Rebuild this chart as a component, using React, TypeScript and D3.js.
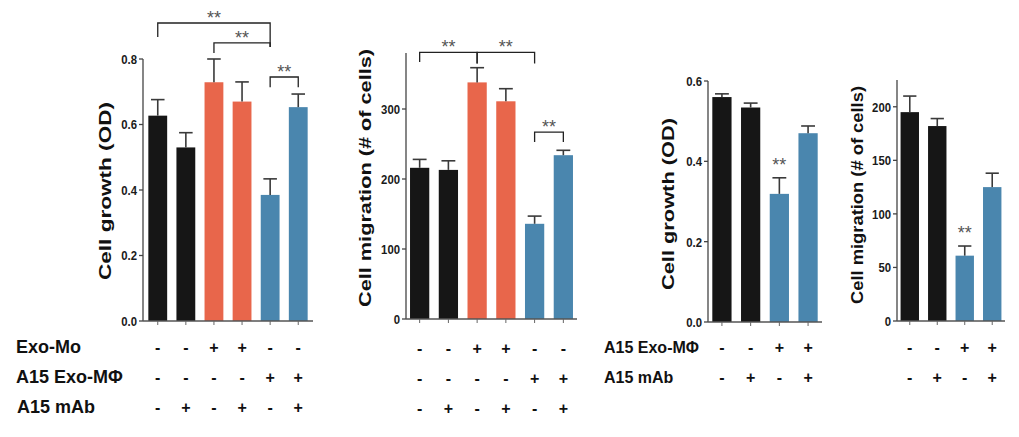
import React from "react";
import * as d3 from "d3";

const W = 1019;
const H = 437;

const BLACK = "#161616";
const ORANGE = "#e8664b";
const BLUE = "#4a86ae";

// left experiment (6 groups)
const colorsA = [BLACK, BLACK, ORANGE, ORANGE, BLUE, BLUE];
const growthA = [0.627, 0.53, 0.729, 0.67, 0.385, 0.653];
const growthAErr = [0.049, 0.045, 0.071, 0.06, 0.049, 0.04];
const migrationA = [216, 213, 338, 311, 136, 234];
const migrationAErr = [12, 13, 21, 18, 11, 7];

// right experiment (4 groups)
const colorsB = [BLACK, BLACK, BLUE, BLUE];
const growthB = [0.56, 0.534, 0.319, 0.47];
const growthBErr = [0.008, 0.011, 0.04, 0.018];
const migrationB = [195, 182, 61, 125];
const migrationBErr = [15, 7, 9, 13];

// treatment table
const exoMo = ["-", "-", "+", "+", "-", "-"];
const exoMphiA = ["-", "-", "-", "-", "+", "+"];
const mAbA = ["-", "+", "-", "+", "-", "+"];
const exoMphiB = ["-", "-", "+", "+"];
const mAbB = ["-", "+", "-", "+"];

// significance brackets: from bar, to bar, level, left leg end, right leg end
const bracketsGrowthA = [
  { a: 0, b: 4, y: 0.91, l: 0.867, r: 0.837 },
  { a: 2, b: 4, y: 0.849, l: 0.818, r: 0.837 },
  { a: 4, b: 5, y: 0.745, l: 0.714, r: 0.714 },
];
const bracketsMigrationA = [
  { a: 0, b: 2, y: 381, l: 367, r: 365 },
  { a: 2, b: 4, y: 381, l: 365, r: 365 },
  { a: 4, b: 5, y: 267, l: 253, r: 253 },
];

const FONT = "'Liberation Sans', Arial, sans-serif";

interface Bracket {
  a: number;
  b: number;
  y: number;
  l: number;
  r: number;
}

interface PanelCfg {
  values: number[];
  errs: number[];
  colors: string[];
  x0: number;
  x1: number;
  pad: number;
  yBottom: number;
  yTop: number;
  domain: [number, number];
  ticks: number[];
  fmt: (v: number) => string;
  label: string;
  labelX: number;
  labelY: number;
  labelLen: number;
  brackets?: Bracket[];
  stars?: number[];
  rows: { signs: string[]; y: number }[];
}

const fmt1 = d3.format(".1f");
const fmt0 = d3.format("d");

const panels: PanelCfg[] = [
  {
    values: growthA,
    errs: growthAErr,
    colors: colorsA,
    x0: 143,
    x1: 313,
    pad: 0.19,
    yBottom: 321,
    yTop: 59,
    domain: [0, 0.8],
    ticks: [0, 0.2, 0.4, 0.6, 0.8],
    fmt: fmt1,
    label: "Cell growth (OD)",
    labelX: 105,
    labelY: 191,
    labelLen: 178,
    brackets: bracketsGrowthA,
    rows: [
      { signs: exoMo, y: 347 },
      { signs: exoMphiA, y: 377 },
      { signs: mAbA, y: 407 },
    ],
  },
  {
    values: migrationA,
    errs: migrationAErr,
    colors: colorsA,
    x0: 406,
    x1: 577,
    pad: 0.14,
    yBottom: 319,
    yTop: 53,
    domain: [0, 380],
    ticks: [0, 100, 200, 300],
    fmt: fmt0,
    label: "Cell migration (# of cells)",
    labelX: 365,
    labelY: 178,
    labelLen: 258,
    brackets: bracketsMigrationA,
    rows: [
      { signs: exoMo, y: 348 },
      { signs: exoMphiA, y: 378 },
      { signs: mAbA, y: 408 },
    ],
  },
  {
    values: growthB,
    errs: growthBErr,
    colors: colorsB,
    x0: 708,
    x1: 822,
    pad: 0.15,
    yBottom: 322,
    yTop: 81,
    domain: [0, 0.6],
    ticks: [0, 0.2, 0.4, 0.6],
    fmt: fmt1,
    label: "Cell growth (OD)",
    labelX: 668,
    labelY: 204,
    labelLen: 172,
    stars: [2],
    rows: [
      { signs: exoMphiB, y: 347 },
      { signs: mAbB, y: 377 },
    ],
  },
  {
    values: migrationB,
    errs: migrationBErr,
    colors: colorsB,
    x0: 897,
    x1: 1005,
    pad: 0.13,
    yBottom: 321,
    yTop: 80,
    domain: [0, 225],
    ticks: [0, 50, 100, 150, 200],
    fmt: fmt0,
    label: "Cell migration (# of cells)",
    labelX: 857,
    labelY: 195,
    labelLen: 218,
    stars: [2],
    rows: [
      { signs: exoMphiB, y: 347 },
      { signs: mAbB, y: 377 },
    ],
  },
];

const Stars = ({ x, y }: { x: number; y: number }) => (
  <text x={x} y={y} textAnchor="middle" fontFamily={FONT} fontSize={18} fill="#555">
    **
  </text>
);

const Panel = ({ cfg }: { cfg: PanelCfg }) => {
  const n = cfg.values.length;
  const x = d3
    .scaleBand<number>()
    .domain(d3.range(n))
    .range([cfg.x0, cfg.x1])
    .paddingInner(0.33)
    .paddingOuter(cfg.pad);
  const y = d3.scaleLinear().domain(cfg.domain).range([cfg.yBottom, cfg.yTop]);
  const bw = x.bandwidth();
  const cx = (i: number) => (x(i) || 0) + bw / 2;
  const cap = bw * 0.36;

  return (
    <g>
      {/* bars */}
      {cfg.values.map((v, i) => (
        <rect
          key={`bar-${i}`}
          x={x(i)}
          y={y(v)}
          width={bw}
          height={y(0) - y(v)}
          fill={cfg.colors[i]}
        />
      ))}
      {/* error bars, upper half only */}
      {cfg.values.map((v, i) => (
        <g key={`err-${i}`} stroke="#3a3a3a" strokeWidth={1.6}>
          <line x1={cx(i)} x2={cx(i)} y1={y(v)} y2={y(v + cfg.errs[i])} />
          <line
            x1={cx(i) - cap}
            x2={cx(i) + cap}
            y1={y(v + cfg.errs[i])}
            y2={y(v + cfg.errs[i])}
          />
        </g>
      ))}
      {/* y axis */}
      <line x1={cfg.x0} x2={cfg.x0} y1={y(0)} y2={cfg.yTop} stroke="#444" strokeWidth={1.3} />
      {cfg.ticks.map((t) => (
        <g key={`t-${t}`}>
          <line x1={cfg.x0 - 4} x2={cfg.x0} y1={y(t)} y2={y(t)} stroke="#444" strokeWidth={1.3} />
          <text
            transform={`translate(${cfg.x0 - 6},${y(t)}) scale(0.84,1)`}
            dy="0.36em"
            textAnchor="end"
            fontFamily={FONT}
            fontWeight="bold"
            fontSize={13.5}
            fill="#1a1a1a"
          >
            {cfg.fmt(t)}
          </text>
        </g>
      ))}
      {/* x axis */}
      <line x1={cfg.x0} x2={cfg.x1} y1={y(0)} y2={y(0)} stroke="#555" strokeWidth={1.3} />
      {d3.range(n).map((i) => (
        <line
          key={`xt-${i}`}
          x1={cx(i)}
          x2={cx(i)}
          y1={y(0)}
          y2={y(0) + 4}
          stroke="#666"
          strokeWidth={1}
        />
      ))}
      {/* y label */}
      <text
        transform={`translate(${cfg.labelX},${cfg.labelY}) rotate(-90)`}
        textAnchor="middle"
        dy="0.35em"
        fontFamily={FONT}
        fontWeight="bold"
        fontSize={17}
        textLength={cfg.labelLen}
        lengthAdjust="spacingAndGlyphs"
        fill="#111"
      >
        {cfg.label}
      </text>
      {/* significance brackets */}
      {(cfg.brackets || []).map((b, k) => (
        <g key={`br-${k}`}>
          <path
            d={`M${cx(b.a)},${y(b.l)}V${y(b.y)}H${cx(b.b)}V${y(b.r)}`}
            fill="none"
            stroke="#222"
            strokeWidth={1.3}
          />
          <Stars x={(cx(b.a) + cx(b.b)) / 2} y={y(b.y) + 1} />
        </g>
      ))}
      {(cfg.stars || []).map((i) => (
        <Stars key={`st-${i}`} x={cx(i)} y={y(cfg.values[i] + cfg.errs[i]) - 7} />
      ))}
      {/* treatment signs */}
      {cfg.rows.map((r, k) =>
        r.signs.map((s, i) => (
          <text
            key={`s-${k}-${i}`}
            x={cx(i)}
            y={r.y}
            dy="0.35em"
            textAnchor="middle"
            fontFamily={FONT}
            fontWeight="bold"
            fontSize={16}
            fill="#111"
          >
            {s}
          </text>
        ))
      )}
    </g>
  );
};

export default function App() {
  return (
    <svg
      width={W}
      height={H}
      style={{ position: "absolute", left: 0, top: 0, background: "#fff" }}
    >
      {panels.map((p, i) => (
        <Panel key={i} cfg={p} />
      ))}
      <g fontFamily={FONT} fontWeight="bold" fill="#111" dominantBaseline="central">
        <text x={16} y={347} fontSize={18}>Exo-Mo</text>
        <text x={16} y={377} fontSize={18}>A15 Exo-MΦ</text>
        <text x={17} y={407} fontSize={18}>A15 mAb</text>
        <text x={604} y={347} fontSize={16}>A15 Exo-MΦ</text>
        <text x={604} y={377} fontSize={16}>A15 mAb</text>
      </g>
    </svg>
  );
}
